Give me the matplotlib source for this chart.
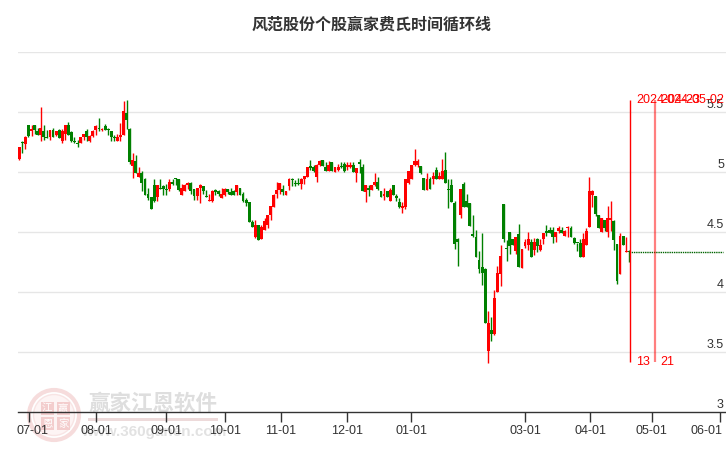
import matplotlib
matplotlib.use("Agg")
import matplotlib.pyplot as plt
from matplotlib.patches import Rectangle, Circle

opens = [5.11,5.24,5.23,5.39,5.34,5.39,5.34,5.31,5.34,5.28,5.29,5.35,5.31,5.35,5.26,5.32,5.39,5.33,5.26,5.24,
 5.24,5.29,5.34,5.26,5.30,5.35,5.36,5.35,5.38,5.36,5.34,5.28,5.26,5.29,5.31,5.49,5.36,5.05,5.09,4.96,
 4.99,4.94,4.82,4.79,4.89,4.79,4.86,4.88,4.86,4.86,4.92,4.94,4.94,4.81,4.84,4.89,4.91,4.86,4.80,4.87,
 4.88,4.80,4.76,4.76,4.85,4.84,4.78,4.81,4.86,4.83,4.84,4.83,4.87,
 4.82,4.77,4.75,4.58,4.46,4.56,4.44,4.52,4.56,4.64,4.71,4.82,4.85,4.86,4.81,4.88,4.94,4.91,4.91,4.90,4.94,4.96,
 5.05,5.04,4.96,5.06,5.10,5.04,5.01,5.08,5.00,5.02,5.05,5.07,5.04,5.04,5.06,4.99,5.07,5.04,4.83,4.87,4.85,4.89,
 4.92,4.84,4.80,4.84,4.76,4.89,4.80,4.75,4.70,4.71,4.91,4.94,5.06,5.06,5.05,4.95,4.85,4.94,4.94,5.02,4.94,4.94,
 5.02,4.85,4.89,4.74,4.44,
 4.64,4.90,4.76,4.74,4.47,4.46,4.27,4.21,4.19,3.51,3.68,3.65,4.00,4.15,4.73,4.37,4.50,4.44,4.34,4.48,4.20,4.38,
 4.39,4.42,4.35,4.44,4.35,4.44,4.51,4.52,4.52,4.46,4.51,4.52,4.47,4.53,4.53,4.45,4.41,4.41,4.29,4.39,4.54,4.81,
 4.80,4.64,4.50,4.60,4.50,4.60,4.59,4.40,4.15,4.47,4.33,4.34]
closes = [5.21,5.24,5.29,5.30,5.36,5.35,5.31,5.37,5.29,5.28,5.35,5.29,5.34,5.28,5.34,5.39,5.31,5.26,5.25,5.23,
 5.29,5.32,5.29,5.30,5.34,5.38,5.36,5.36,5.35,5.35,5.29,5.28,5.29,5.31,5.51,5.43,5.08,5.10,4.99,4.99,
 4.91,4.81,4.78,4.69,4.76,4.89,4.86,4.86,4.85,4.92,4.90,4.94,4.85,4.87,4.89,4.91,4.84,4.80,4.87,4.89,
 4.84,4.79,4.77,4.84,4.83,4.82,4.82,4.86,4.83,4.81,4.81,4.89,4.81,
 4.76,4.74,4.58,4.54,4.56,4.43,4.54,4.59,4.64,4.72,4.81,4.85,4.91,4.83,4.84,4.94,4.93,4.90,4.90,4.94,4.97,5.04,
 5.03,5.01,5.06,5.09,5.05,5.01,5.06,5.01,5.04,5.04,5.04,5.01,5.06,5.06,5.00,5.03,5.07,4.84,4.89,4.85,4.89,4.92,
 4.86,4.79,4.82,4.79,4.85,4.81,4.78,4.71,4.72,4.94,5.01,5.06,5.09,5.09,4.99,4.85,4.94,4.86,4.97,4.94,4.97,5.01,
 4.91,4.85,4.75,4.40,4.42,
 4.86,4.71,4.71,4.55,4.47,4.29,4.19,4.16,3.74,3.74,3.65,3.95,4.16,4.30,4.44,4.36,4.38,4.39,4.46,4.21,4.36,4.42,
 4.44,4.29,4.42,4.38,4.39,4.49,4.49,4.49,4.46,4.50,4.53,4.49,4.51,4.54,4.46,4.41,4.41,4.29,4.44,4.51,4.84,4.84,
 4.65,4.53,4.62,4.53,4.62,4.62,4.43,4.09,4.47,4.39,4.34,4.33]
highs = [5.21,5.26,5.30,5.39,5.39,5.39,5.37,5.54,5.39,5.35,5.35,5.37,5.34,5.36,5.36,5.39,5.42,5.34,5.29,5.27,
 5.29,5.32,5.36,5.31,5.35,5.39,5.45,5.37,5.40,5.37,5.34,5.31,5.32,5.41,5.59,5.60,5.37,5.16,5.14,5.04,
 5.01,4.95,4.87,4.79,4.94,4.89,4.94,4.89,4.90,4.94,4.94,4.95,4.94,4.90,4.90,4.92,4.92,4.86,4.87,4.90,
 4.88,4.85,4.82,4.85,4.86,4.85,4.87,4.87,4.86,4.87,4.85,4.89,4.87,
 4.83,4.78,4.75,4.60,4.60,4.56,4.56,4.62,4.64,4.72,4.82,4.92,4.91,4.89,4.84,4.95,4.95,4.93,4.95,4.95,4.97,5.04,
 5.10,5.06,5.07,5.10,5.10,5.08,5.09,5.08,5.04,5.07,5.08,5.08,5.08,5.08,5.08,5.03,5.11,5.07,4.89,4.89,4.89,4.99,
 4.96,4.84,4.87,4.84,4.87,4.89,4.82,4.78,4.75,4.94,5.01,5.06,5.19,5.11,5.05,4.95,4.99,4.96,5.00,5.04,5.00,5.11,
 5.17,4.94,4.94,4.76,4.45,
 4.86,4.92,4.82,4.74,4.64,4.52,4.34,4.49,4.20,3.84,3.79,4.02,4.22,4.39,4.73,4.43,4.50,4.44,4.46,4.57,4.36,4.44,
 4.50,4.44,4.45,4.45,4.44,4.49,4.56,4.54,4.54,4.50,4.55,4.54,4.52,4.55,4.55,4.46,4.41,4.44,4.49,4.53,4.96,4.85,
 4.80,4.64,4.62,4.60,4.72,4.76,4.60,4.40,4.49,4.47,4.46,4.35]
lows = [5.10,5.16,5.19,5.29,5.30,5.32,5.31,5.26,5.27,5.28,5.27,5.29,5.30,5.28,5.24,5.27,5.31,5.25,5.24,5.21,
 5.24,5.27,5.26,5.25,5.29,5.31,5.34,5.34,5.35,5.31,5.26,5.26,5.26,5.26,5.31,5.36,5.07,4.95,4.99,4.96,
 4.84,4.81,4.77,4.69,4.75,4.76,4.86,4.81,4.81,4.84,4.89,4.89,4.84,4.81,4.84,4.86,4.82,4.77,4.77,4.74,
 4.82,4.79,4.76,4.75,4.81,4.80,4.78,4.80,4.82,4.81,4.81,4.81,4.81,
 4.75,4.72,4.58,4.54,4.45,4.43,4.44,4.52,4.53,4.60,4.71,4.78,4.82,4.81,4.81,4.85,4.88,4.88,4.89,4.86,4.90,4.96,
 5.02,5.00,4.92,5.05,5.05,5.01,5.01,5.01,5.00,5.01,5.03,5.00,5.02,5.03,5.00,4.92,4.99,4.84,4.75,4.80,4.85,4.88,
 4.85,4.79,4.77,4.79,4.76,4.81,4.76,4.70,4.66,4.69,4.90,4.94,5.05,5.04,4.98,4.85,4.85,4.86,4.90,4.94,4.94,4.94,
 4.91,4.70,4.75,4.36,4.22,
 4.62,4.71,4.71,4.55,4.46,4.29,4.16,4.06,3.74,3.41,3.59,3.64,4.00,4.05,4.42,4.26,4.32,4.39,4.32,4.21,4.20,4.37,
 4.35,4.29,4.31,4.33,4.34,4.40,4.47,4.49,4.41,4.42,4.49,4.49,4.47,4.46,4.46,4.40,4.34,4.29,4.29,4.39,4.54,4.71,
 4.63,4.53,4.50,4.51,4.46,4.51,4.35,4.07,4.15,4.39,4.33,4.25]

tick_pos = [3.26,25.1,48.0,67.2,85.4,106.9,127.8,165.0,186.2,206.4,228.6]
tick_labels = ["07-01","08-01","09-01","10-01","11-01","12-01","01-01","03-01","04-01","05-01","06-01"]
price_ticks = [3,3.5,4,4.5,5,5.5,6]
price_labels = ["3","3.5","4","4.5","5","5.5",""]
cycle_pos = [199,207]
cycle_counts = ["13","21"]
cycle_dates = ["2024-04-23","2024-05-02"]
cycle_top, cycle_bottom = 5.6,3.42
forecast_price = 4.33
forecast_end = 229.6

title = "风范股份个股赢家费氏时间循环线"
FS = ['Liberation Sans','DejaVu Sans']
CJK = ['Noto Sans CJK SC','DejaVu Sans']
DARK = '#333333'
LBL = 9.0

fig = plt.figure(figsize=(7.26,4.5),dpi=100,facecolor='white')
W,H = 726,450
ax = fig.add_axes([18/W,(H-412)/H,708/W,360/H])
ax.set_ylim(3,6)
ax.set_xlim(-1.3/3.065,706.7/3.065)
for s in ax.spines.values(): s.set_visible(False)
ax.patch.set_alpha(0)
ax.set_yticks([]); ax.set_xticks([])

for p in price_ticks[1:]:
    ax.axhline(p,color='#e6e6e6',lw=1.0,zorder=1)

# watermark
ov = fig.add_axes([0,0,1,1],zorder=-1)
ov.set_xlim(0,W); ov.set_ylim(H,0); ov.axis('off')
ov.add_patch(Circle((54,415),25,fc='none',ec='#f6dcdc',lw=3))
ov.add_patch(Circle((54,415),20.5,fc='#fdf4f4',ec='#f8e4e4',lw=1))
for (x0,y0,ch) in [(41,402,'江'),(57,402,'赢'),(41,417,'恩'),(57,417,'家')]:
    ov.add_patch(Rectangle((x0,y0),12.5,13,fc='#f3cdcd',ec='none'))
    ov.text(x0+6.2,y0+6.5,ch,family=CJK,fontsize=7.5,color='white',ha='center',va='center')
ov.text(153,403,"赢家江恩软件",family=CJK,fontsize=15.5,fontweight='bold',color='#dedede',ha='center',va='center')
ov.add_patch(Rectangle((88,418),130,2.5,fc='#eddada',ec='none'))
ov.text(154,432,"www.360ganen.com",family=FS,fontsize=11,fontweight='bold',color='#e2e2e2',ha='center',va='center')

# candles
for i,(o,c,h,l) in enumerate(zip(opens,closes,highs,lows)):
    col = '#ff0000' if c>o else '#008000'
    ax.vlines(i,l,h,color=col,lw=1.0,zorder=3)
    b = max(abs(c-o),0.01)
    ax.add_patch(Rectangle((i-0.47,min(o,c)),0.94,b,fc=col,ec='none',zorder=4))

# forecast line
ax.hlines(forecast_price,cycle_pos[0],forecast_end,color='#006400',lw=1,linestyles=(0,(1,0.6)),zorder=3)

# cycle lines
for k,(p,n,d) in enumerate(zip(cycle_pos,cycle_counts,cycle_dates)):
    xp = p+0.33
    ax.vlines(xp,cycle_bottom,cycle_top,color='#ff0000',lw=1.0 if k==0 else 1.6,alpha=1 if k==0 else 0.5,zorder=5)
    ax.annotate(d,(xp,cycle_top),xytext=(4.2,0),textcoords='offset points',family=FS,fontsize=LBL,
                color='#ff0000',ha='left',va='center',zorder=7,annotation_clip=False)
    ax.annotate(n,(xp,cycle_bottom),xytext=(4.2,-0.5),textcoords='offset points',family=FS,fontsize=LBL,
                color='#ff0000',ha='left',va='center',zorder=7,annotation_clip=False)

# y labels
for p,t in zip(price_ticks,price_labels):
    ax.annotate(t,(1,p),xycoords=ax.get_yaxis_transform(),xytext=(-1.5,0.5),textcoords='offset points',
                family=FS,fontsize=LBL,color=DARK,ha='right',va='bottom',zorder=6)

# x axis
ax.plot([0,1],[0,0],transform=ax.transAxes,color=DARK,lw=1,clip_on=False,zorder=6)
for p,t in zip(tick_pos,tick_labels):
    ax.vlines(p,3,3-10/120,color=DARK,lw=1,clip_on=False,zorder=6)
    if t==tick_labels[-1]:
        kw = dict(xytext=(1.5,-14),ha='right')
    elif t==tick_labels[0]:
        kw = dict(xytext=(2.4,-14),ha='center')
    else:
        kw = dict(xytext=(0,-14),ha='center')
    ax.annotate(t,(p,3),textcoords='offset points',family=FS,fontsize=LBL,color=DARK,va='center',annotation_clip=False,**kw)

fig.text(371.5/W,1-24.5/H,title,family=CJK,fontsize=11.52,fontweight='bold',color=DARK,ha='center',va='center')
fig.savefig('out.png',dpi=100,facecolor='white')
